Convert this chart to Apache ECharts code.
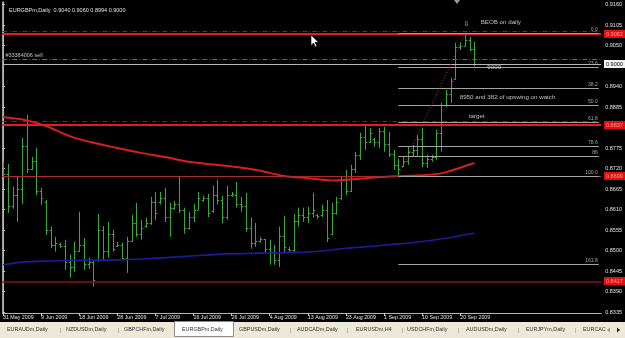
<!DOCTYPE html>
<html><head><meta charset="utf-8">
<script src="https://cdn.jsdelivr.net/npm/echarts@6.0.0/dist/echarts.min.js"></script>
<style>html,body{margin:0;padding:0;background:#000;}#c{width:625px;height:338px;}</style>
</head><body><div id="c"></div>
<script>
// ---- data ----
const dateLabels = ['31 May 2009','9 Jun 2009','18 Jun 2009','28 Jun 2009','7 Jul 2009','16 Jul 2009','26 Jul 2009','4 Aug 2009','13 Aug 2009','23 Aug 2009','1 Sep 2009','10 Sep 2009','20 Sep 2009'];
const dateTickIdx = [0,8,16,24,32,40,48,56,64,72,80,88,96];
const priceTicks = [0.9160,0.9105,0.9050,0.8940,0.8885,0.8775,0.8720,0.8665,0.8610,0.8555,0.8500,0.8445,0.8390,0.8335];

const open = [
.8730,.8705,.8620,.8650,.8665,.8780,.8720,.8740,.8660,.8630,
.8555,.8515,.8518,.8512,.8470,.8455,.8500,.8515,.8465,.8470,
.8475,.8555,.8500,.8545,.8512,.8516,.8480,.8525,.8575,.8545,
.8565,.8575,.8630,.8630,.8640,.8590,.8615,.8625,.8610,.8560,
.8590,.8610,.8636,.8640,.8605,.8650,.8635,.8590,.8650,.8650,
.8625,.8620,.8560,.8520,.8525,.8530,.8505,.8495,.8475,.8540,
.8505,.8502,.8580,.8595,.8590,.8600,.8595,.8595,.8610,.8545,
.8600,.8640,.8690,.8660,.8720,.8755,.8805,.8790,.8800,.8790,
.8820,.8785,.8760,.8730,.8726,.8740,.8765,.8770,.8800,.8735,
.8745,.8750,.8815,.8890,.8920,.8960,.9045,.9050,.9065,.9040];
const high = [
.8738,.8732,.8671,.8698,.8802,.8864,.8751,.8775,.8668,.8636,
.8564,.8537,.8521,.8529,.8489,.8523,.8604,.8534,.8481,.8475,
.8598,.8566,.8577,.8556,.8523,.8521,.8537,.8596,.8628,.8582,
.8588,.8644,.8657,.8657,.8668,.8628,.8633,.8698,.8615,.8604,
.8625,.8657,.8647,.8652,.8674,.8690,.8647,.8674,.8657,.8684,
.8644,.8655,.8588,.8574,.8537,.8531,.8529,.8515,.8564,.8593,
.8510,.8598,.8615,.8615,.8617,.8655,.8598,.8623,.8636,.8628,
.8644,.8698,.8716,.8730,.8765,.8816,.8834,.8829,.8802,.8829,
.8832,.8818,.8770,.8746,.8751,.8778,.8783,.8810,.8829,.8757,
.8757,.8824,.8896,.8931,.8963,.9057,.9059,.9082,.9073,.9060];
const low = [
.8698,.8601,.8612,.8577,.8625,.8708,.8716,.8649,.8623,.8542,
.8507,.8497,.8507,.8448,.8427,.8443,.8497,.8448,.8451,.8403,
.8470,.8475,.8481,.8497,.8510,.8475,.8440,.8523,.8537,.8529,
.8561,.8569,.8582,.8623,.8577,.8537,.8609,.8601,.8545,.8556,
.8577,.8609,.8631,.8590,.8601,.8623,.8574,.8582,.8644,.8615,
.8604,.8550,.8505,.8510,.8521,.8494,.8462,.8462,.8456,.8494,
.8497,.8494,.8564,.8577,.8574,.8588,.8585,.8590,.8523,.8542,
.8596,.8636,.8649,.8657,.8708,.8743,.8770,.8789,.8778,.8775,
.8765,.8751,.8716,.8699,.8724,.8730,.8751,.8751,.8724,.8722,
.8738,.8743,.8765,.8886,.8896,.8958,.9038,.9048,.9034,.8994];
const close = [
.8705,.8620,.8650,.8665,.8780,.8720,.8740,.8660,.8640,.8555,
.8515,.8520,.8512,.8470,.8455,.8500,.8515,.8465,.8470,.8420,
.8555,.8500,.8545,.8505,.8516,.8480,.8525,.8575,.8545,.8560,
.8575,.8630,.8600,.8640,.8590,.8615,.8625,.8610,.8560,.8590,
.8610,.8640,.8640,.8600,.8650,.8635,.8590,.8650,.8652,.8625,
.8620,.8560,.8520,.8525,.8530,.8505,.8495,.8475,.8540,.8510,
.8502,.8580,.8595,.8590,.8600,.8610,.8592,.8610,.8535,.8600,
.8630,.8690,.8660,.8720,.8755,.8805,.8790,.8815,.8790,.8820,
.8785,.8760,.8730,.8720,.8740,.8765,.8770,.8800,.8735,.8745,
.8750,.8815,.8890,.8920,.8955,.9045,.9050,.9065,.9040,.9000];

const redMaIdx = [0,5,9,14,19,24,29,34,39,44,49,54,59,64,69,74,79,84,89,92,94,96,98,99];
const redMaVal = [.8858,.8849,.8834,.8807,.8789,.8775,.8762,.8751,.8738,.8731,.8724,.8714,.8700,.8694,.8688,.8692,.8697,.8700,.8703,.8707,.8714,.8722,.8731,.8735];
const blueMaIdx = [0,4,10,17,24,30,37,40,47,54,61,67,72,79,83,86,93,99];
const blueMaVal = [.8462,.8469,.8472,.8474,.8475,.8478,.8483,.8486,.8491,.8493,.8495,.8499,.8506,.8513,.8518,.8521,.8533,.8547];

const fibRatios = [0,0.236,0.382,0.5,0.618,0.786,0.86,1.0,1.618];
const fibLabels = ['0.0','23.6','38.2','50.0','61.8','78.6','86','100.0','161.8'];
const fibHigh = 0.9082, fibLow = 0.8699, fibLowBar = 83, fibHighBar = 97;

// horizontal objects: value, label on price scale
const hLevels = [0.9089, 0.9082, 0.9014, 0.9000, 0.8847, 0.8837, 0.8699, 0.8417];
const priceBoxes = [0.9082, 0.9000, 0.8837, 0.8699, 0.8417];

const header = 'EURGBPm,Daily  0.9040 0.9060 0.8994 0.9000';
const tabs = ['EURAUDm,Daily','NZDUSDm,Daily','GBPCHFm,Daily','EURGBPm,Daily','GBPUSDm,Daily','AUDCADm,Daily','EURUSDm,H4','USDCHFm,Daily','AUDUSDm,Daily','EURJPYm,Daily','EURCAC'];

// ---- layout ----
const FONT = 'Liberation Sans';
const xMin = -0.15, xMax = 125.6;
const yMin = 0.83325, yMax = 0.91667;

const chart = echarts.init(document.getElementById('c'), null, {renderer:'canvas'});

const ohlc = open.map((o,i)=>[i,o,high[i],low[i],close[i]]);
const redMa = redMaIdx.map((x,i)=>[x,redMaVal[i]]);
const blueMa = blueMaIdx.map((x,i)=>[x,blueMaVal[i]]);

function renderBar(params, api){
  const x = api.value(0);
  const pO = api.coord([x, api.value(1)]);
  const pH = api.coord([x, api.value(2)]);
  const pL = api.coord([x, api.value(3)]);
  const pC = api.coord([x, api.value(4)]);
  const cx = Math.round(pH[0]) + 0.5;
  const w = 1.8;
  const st = {stroke:'#3aa83c', lineWidth:1};
  return {type:'group', children:[
    {type:'line', shape:{x1:cx,y1:pH[1],x2:cx,y2:pL[1]}, style:st},
    {type:'line', shape:{x1:cx-w,y1:Math.round(pO[1])+0.5,x2:cx,y2:Math.round(pO[1])+0.5}, style:st},
    {type:'line', shape:{x1:cx,y1:Math.round(pC[1])+0.5,x2:cx+w,y2:Math.round(pC[1])+0.5}, style:st}
  ]};
}

const dashDot = [5,2,1,2];
const levelStyles = [
  {color:'#a31616', type:dashDot, width:1},
  {color:'#e41c1c', type:'solid', width:2},
  {color:'#1f9a1f', type:dashDot, width:1},
  {color:'#b8b8b8', type:'solid', width:1},
  {color:'#a31616', type:dashDot, width:1},
  {color:'#e41c1c', type:'solid', width:2},
  {color:'#a82a2a', type:'solid', width:1},
  {color:'#8a1212', type:'solid', width:1.6}
];
const levelLines = hLevels.map((v,i)=>({yAxis:v, lineStyle:levelStyles[i], label:{show:false}}));
const fibLines = fibRatios.map((r,k)=>{
  const lvl = fibHigh - r*(fibHigh-fibLow);
  return [{coord:[fibLowBar, lvl], lineStyle:{color:'#a4a4a4', type:'solid', width:1},
           label:{show:true, position:'insideEndTop', distance:1, formatter:fibLabels[k], color:'#a8a8a8', fontSize:5, fontFamily:FONT}},
          {coord:[xMax-0.5, lvl]}];
});
const diag = [[{coord:[fibLowBar, fibLow], lineStyle:{color:'#c42a2a', type:[1,2], width:1}, label:{show:false}}, {coord:[fibHighBar, fibHigh]}]];

const notes = [
  {value:[100.3, 0.91131], label:{formatter:'BEOB on daily'}},
  {value:[97.3, 0.91065], label:{formatter:'⇩', align:'center', fontSize:7, fontFamily:'DejaVu Sans'}},
  {value:[0.5, 0.90225], label:{formatter:'#33384006 sell', fontSize:5.5}},
  {value:[101.7, 0.89924], label:{formatter:'9000'}},
  {value:[95.9, 0.89121], label:{formatter:'8950 and 382 of upswing on watch'}},
  {value:[97.8, 0.88611], label:{formatter:'target'}}
];

// tab bar graphics
const tabX = [7,66,124,182,239,297,356,407,466,526,583];
const sepX = [60,118,290,347,402,458,518,575];
const g = [
  {type:'rect', shape:{x:0,y:322,width:625,height:16}, style:{fill:'#ece9d8'}},
  {type:'rect', shape:{x:174.5,y:321.5,width:59,height:15}, style:{fill:'#ffffff', stroke:'#8a8a8a', lineWidth:1}},
  {type:'polygon', shape:{points:[[454,0],[460,0],[457,4]]}, style:{fill:'#9a9a9a'}},
  {type:'polygon', shape:{points:[[311,35],[311,45.5],[313.5,43],[315.5,47],[317,46.3],[315,42.3],[318.5,42.3]]}, style:{fill:'#fff', stroke:'#000', lineWidth:0.6}},
  {type:'polygon', shape:{points:[[607,330],[610,327.5],[610,332.5]]}, style:{fill:'#999'}},
  {type:'polygon', shape:{points:[[617,327.5],[620,330],[617,332.5]]}, style:{fill:'#222'}}
];
tabs.forEach((t,i)=>g.push({type:'text', x:tabX[i], y:330, style:{text:t, fill:'#333', font:'5.4px "Liberation Sans"', textVerticalAlign:'middle'}}));
sepX.forEach(x=>g.push({type:'text', x:x, y:330, style:{text:'|', fill:'#888', font:'6px "Liberation Sans"', textVerticalAlign:'middle'}}));

chart.setOption({
  animation:false,
  backgroundColor:'#000',
  title:{text:header, left:4, top:2, textStyle:{color:'#e0e0e0', fontSize:5.5, fontWeight:'normal', fontFamily:FONT}},
  grid:{left:2, right:22, top:2, bottom:25},
  xAxis:{type:'value', min:xMin, max:xMax,
    axisLine:{show:true, onZero:false, lineStyle:{color:'#b4b4b4'}},
    axisTick:{show:true, customValues:dateTickIdx, length:3, lineStyle:{color:'#c8c8c8'}},
    axisLabel:{customValues:dateTickIdx, formatter:v=>dateLabels[dateTickIdx.indexOf(Math.round(v))], align:'left',
      color:'#e4e4e4', fontSize:5.3, fontFamily:FONT, margin:2},
    splitLine:{show:false}},
  yAxis:[
    {type:'value', position:'right', min:yMin, max:yMax,
      axisLine:{show:true, lineStyle:{color:'#b4b4b4'}},
      axisTick:{show:true, customValues:priceTicks, length:2, lineStyle:{color:'#c8c8c8'}},
      axisLabel:{customValues:priceTicks, formatter:v=>v.toFixed(4), color:'#e4e4e4', fontSize:5.5, fontFamily:FONT, margin:4},
      splitLine:{show:false}},
    {type:'value', position:'left', min:yMin, max:yMax,
      axisLine:{show:true, lineStyle:{color:'#9a9a9a'}}, axisTick:{show:false}, axisLabel:{show:false}, splitLine:{show:false}}
  ],
  series:[
    {type:'line', name:'levels', data:[], z:1, silent:true,
      markLine:{silent:true, precision:6, symbol:['none','none'], animation:false, data:levelLines.concat(fibLines).concat(diag)}},
    {type:'custom', name:'bars', renderItem:renderBar, data:ohlc, encode:{x:0, y:[1,2,3,4]}, z:3, clip:true, silent:true},
    {type:'line', name:'ma red', data:redMa, smooth:0.3, symbol:'none', z:4, lineStyle:{color:'#d81e1e', width:2}, silent:true},
    {type:'line', name:'ma blue', data:blueMa, smooth:0.3, symbol:'none', z:4, lineStyle:{color:'#1c1c9a', width:1.6}, silent:true},
    {type:'scatter', name:'notes', data:notes, symbolSize:0.1, z:5, silent:true, itemStyle:{color:'rgba(0,0,0,0)'},
      label:{show:true, position:'inside', align:'left', verticalAlign:'middle', color:'#e8e8e8', fontSize:6.2, fontFamily:FONT}}
  ],
  graphic:g
});

// price boxes on the price scale, placed through the y axis scale
const boxes = priceBoxes.map(v=>{
  const y = chart.convertToPixel({yAxisIndex:0}, v);
  const white = Math.abs(v-0.9000) < 1e-6;
  return {type:'group', x:604, y:Math.round(y), z:100, children:[
    {type:'rect', shape:{x:0,y:-4,width:22,height:8}, style:{fill: white ? '#f2f2f2' : '#e01010'}},
    {type:'text', x:2, y:0.5, style:{text:v.toFixed(4), fill: white ? '#000' : '#ff9c9c', font:'5.5px "Liberation Sans"', textVerticalAlign:'middle'}}
  ]};
});
chart.setOption({graphic: g.concat(boxes)});
</script></body></html>
